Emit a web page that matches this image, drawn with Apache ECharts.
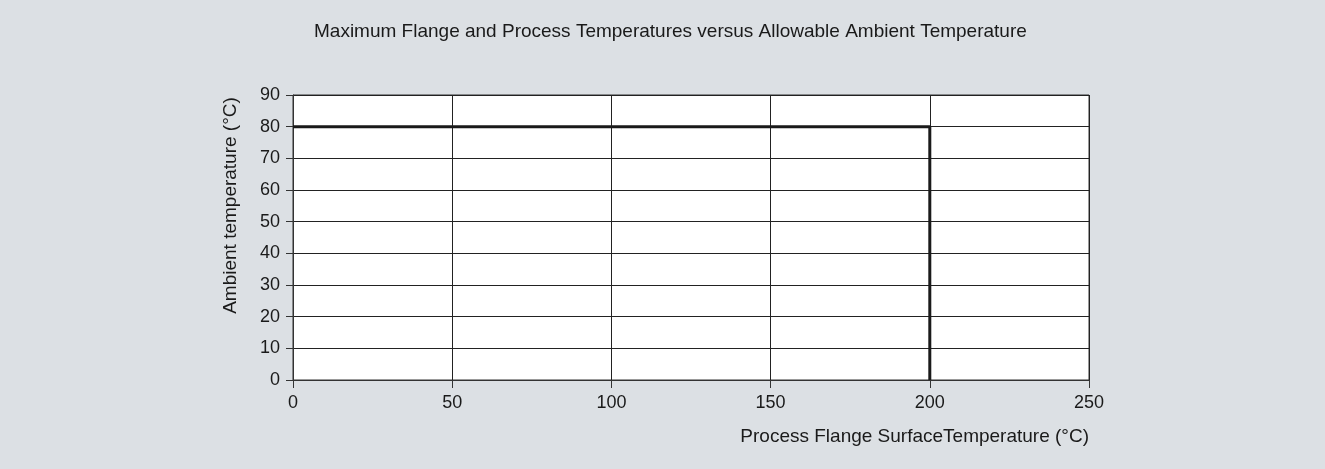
<!DOCTYPE html>
<html><head><meta charset="utf-8">
<script src="https://cdn.jsdelivr.net/npm/echarts@6/dist/echarts.min.js"></script>
<style>html,body{margin:0;padding:0;background:#dce0e4;}#c{width:1325px;height:469px;}</style>
</head><body><div id="c"></div>
<script>
const titleText = 'Maximum Flange and Process Temperatures versus Allowable Ambient Temperature';
const xName = 'Process Flange SurfaceTemperature (°C)';
const yName = 'Ambient temperature (°C)';
const limitX = [0, 200, 200];
const limitY = [80, 80, 0];
const xTicks = [0, 50, 100, 150, 200, 250];
const yTicks = [0, 10, 20, 30, 40, 50, 60, 70, 80, 90];

const font = 'Liberation Sans, Arial, sans-serif';
const chart = echarts.init(document.getElementById('c'));
chart.setOption({
  backgroundColor: '#dce0e4',
  animation: false,
  title: {
    text: titleText, left: 309, top: 17,
    textStyle: {fontFamily: font, fontSize: 19, fontWeight: 'normal', color: '#1a1a1a'}
  },
  grid: {left: 293, right: 236, top: 95, bottom: 89, show: true, backgroundColor: '#ffffff', borderWidth: 0},
  xAxis: {
    type: 'value', min: xTicks[0], max: xTicks[xTicks.length-1], interval: 50,
    name: xName, nameLocation: 'end', nameGap: 0,
    nameTextStyle: {fontFamily: font, fontSize: 19, color: '#1a1a1a', align: 'right', verticalAlign: 'top', padding: [47, 0, 0, 0]},
    axisLine: {show: true, lineStyle: {color: '#333', width: 1}},
    axisTick: {show: true, inside: false, length: 8, lineStyle: {color: '#333'}},
    axisLabel: {fontFamily: font, fontSize: 18, color: '#1a1a1a', margin: 14},
    splitLine: {show: true, lineStyle: {color: '#222', width: 1}}
  },
  yAxis: {
    type: 'value', min: yTicks[0], max: yTicks[yTicks.length-1], interval: 10,
    name: yName, nameLocation: 'middle', nameGap: 53, nameRotate: 90,
    nameTextStyle: {fontFamily: font, fontSize: 19, color: '#1a1a1a', padding: [0, 0, 0, 64]},
    axisLine: {show: true, lineStyle: {color: '#333', width: 1}},
    axisTick: {show: true, inside: false, length: 7, lineStyle: {color: '#333'}},
    axisLabel: {fontFamily: font, fontSize: 18, color: '#1a1a1a', margin: 13},
    splitLine: {show: true, lineStyle: {color: '#222', width: 1}}
  },
  series: [{
    type: 'line', symbol: 'none',
    data: limitX.map((x, i) => [x, limitY[i]]),
    lineStyle: {color: '#1a1a1a', width: 3},
    z: 5
  }],
  graphic: [{
    type: 'rect', shape: {x: 293, y: 95, width: 796, height: 285}, silent: true,
    style: {fill: 'none', stroke: '#333', lineWidth: 1}, z: 0
  }]
});
</script></body></html>
